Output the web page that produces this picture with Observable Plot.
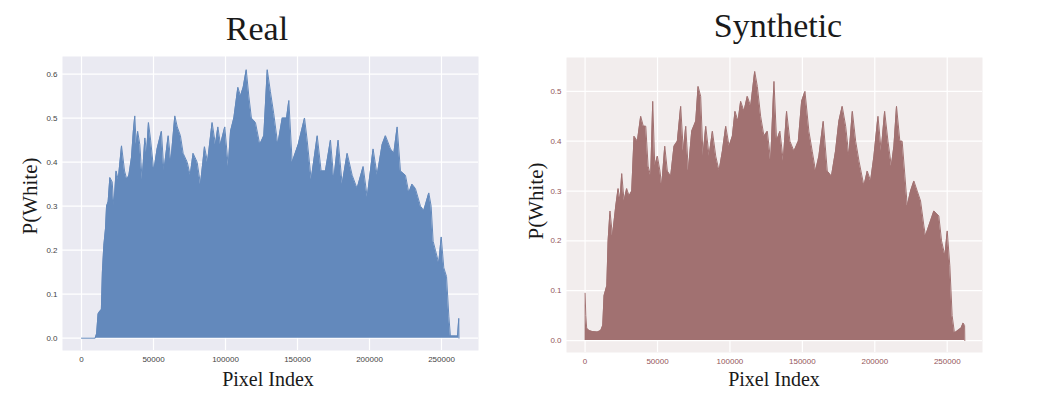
<!DOCTYPE html>
<html>
<head>
<meta charset="utf-8">
<script src="https://cdn.jsdelivr.net/npm/d3@7"></script>
<script src="https://cdn.jsdelivr.net/npm/@observablehq/plot@0.6"></script>
<style>
  html, body { margin: 0; padding: 0; background: #ffffff; }
  #wrap { position: relative; width: 1038px; height: 398px; overflow: hidden; background: #fff; }
  .panel { position: absolute; top: 0; }
  .title { position: absolute; font-family: "Liberation Serif", "DejaVu Serif", serif; font-size: 34px; color: #1a1a1a; transform: translateX(-50%); white-space: nowrap; line-height: 1; }
  .xlab { position: absolute; font-family: "Liberation Serif", "DejaVu Serif", serif; font-size: 20px; color: #1a1a1a; transform: translateX(-50%); white-space: nowrap; line-height: 1; }
  .ylab { position: absolute; font-family: "Liberation Serif", "DejaVu Serif", serif; font-size: 21px; color: #1a1a1a; white-space: nowrap; line-height: 1; transform: translate(-50%, -50%) rotate(-90deg); }
</style>
</head>
<body>
<div id="wrap"></div>
<script>
// ---- Data ----
const realX = [0, 9500, 10500, 11500, 12500, 13800, 14500, 15500, 16700, 17400, 18500, 19700, 21300, 22500, 24000, 25500, 27800, 29900, 31500, 32900, 34700, 36000, 37000, 38000, 39000, 40500, 42100, 44000, 45200, 46500, 48000, 50200, 52500, 55500, 57200, 60200, 62000, 64800, 66500, 68700, 70600, 73400, 75500, 77500, 80300, 82600, 84300, 85400, 87500, 90700, 93000, 94700, 96500, 99500, 101900, 103500, 105800, 108600, 110400, 112300, 114400, 116200, 118000, 120800, 123800, 126600, 129000, 131200, 133500, 136300, 139400, 142400, 144000, 146300, 150500, 154900, 156700, 159500, 163700, 166400, 169400, 172900, 175200, 178200, 181000, 184500, 188000, 191400, 195600, 198400, 202500, 205300, 208800, 211100, 214600, 216900, 219200, 221500, 225000, 227300, 229500, 231900, 235400, 237700, 241200, 242800, 244200, 245800, 248100, 249800, 251600, 253500, 255100, 256200, 259700, 261200, 262000, 262144];
const realP = [0, 0, 0.01, 0.055, 0.06, 0.065, 0.15, 0.21, 0.25, 0.30, 0.31, 0.365, 0.355, 0.30, 0.38, 0.36, 0.437, 0.38, 0.36, 0.37, 0.41, 0.47, 0.505, 0.44, 0.47, 0.44, 0.36, 0.455, 0.42, 0.49, 0.45, 0.38, 0.43, 0.47, 0.38, 0.46, 0.40, 0.505, 0.48, 0.46, 0.42, 0.40, 0.37, 0.42, 0.40, 0.35, 0.40, 0.435, 0.40, 0.49, 0.44, 0.48, 0.44, 0.48, 0.39, 0.47, 0.50, 0.57, 0.55, 0.57, 0.61, 0.55, 0.50, 0.49, 0.44, 0.46, 0.61, 0.56, 0.51, 0.44, 0.50, 0.50, 0.54, 0.40, 0.44, 0.50, 0.45, 0.36, 0.46, 0.38, 0.38, 0.45, 0.36, 0.45, 0.35, 0.42, 0.37, 0.34, 0.39, 0.32, 0.43, 0.37, 0.44, 0.46, 0.43, 0.42, 0.48, 0.38, 0.37, 0.33, 0.35, 0.34, 0.30, 0.29, 0.33, 0.30, 0.22, 0.20, 0.17, 0.23, 0.16, 0.14, 0.05, 0.005, 0.005, 0.005, 0.045, 0.0];

const synthX = [0, 500, 1100, 2800, 5000, 8500, 10800, 12200, 13100, 15000, 15900, 17200, 18900, 21200, 22800, 24100, 25300, 26900, 28700, 30400, 32200, 33800, 36100, 38400, 40200, 41900, 43500, 45300, 46700, 48100, 49900, 51700, 52900, 55000, 56800, 59100, 61400, 63700, 66000, 67800, 69500, 71300, 73600, 76400, 78000, 79800, 81400, 83300, 85600, 87900, 90200, 92500, 94800, 97100, 99400, 101700, 103500, 105600, 107400, 109700, 112000, 114300, 117100, 118900, 121200, 123500, 125800, 128100, 130400, 132200, 134500, 136800, 139100, 141400, 144200, 147200, 149500, 151800, 154500, 156800, 159100, 161400, 164400, 167200, 170100, 172900, 175200, 177500, 179900, 182100, 184500, 186800, 189100, 192500, 194800, 197100, 199400, 202200, 204400, 206800, 209100, 211400, 213200, 215000, 217300, 218900, 220800, 222400, 224700, 227000, 229300, 231600, 233900, 235000, 237300, 240800, 244200, 246100, 248400, 250000, 251800, 253400, 255000, 257300, 259600, 261000, 262000, 262144];
const synthP = [0.095, 0.05, 0.025, 0.02, 0.018, 0.017, 0.02, 0.03, 0.09, 0.11, 0.20, 0.26, 0.21, 0.27, 0.305, 0.28, 0.335, 0.28, 0.305, 0.29, 0.30, 0.41, 0.40, 0.45, 0.43, 0.43, 0.35, 0.33, 0.48, 0.35, 0.37, 0.34, 0.31, 0.39, 0.34, 0.33, 0.39, 0.40, 0.47, 0.38, 0.43, 0.34, 0.42, 0.44, 0.51, 0.49, 0.37, 0.43, 0.37, 0.42, 0.37, 0.34, 0.38, 0.43, 0.39, 0.41, 0.46, 0.44, 0.48, 0.46, 0.49, 0.47, 0.54, 0.51, 0.45, 0.41, 0.42, 0.36, 0.52, 0.40, 0.42, 0.36, 0.46, 0.40, 0.38, 0.40, 0.48, 0.50, 0.42, 0.38, 0.34, 0.37, 0.44, 0.34, 0.33, 0.38, 0.44, 0.47, 0.43, 0.37, 0.46, 0.40, 0.36, 0.31, 0.34, 0.32, 0.37, 0.45, 0.38, 0.46, 0.40, 0.35, 0.39, 0.47, 0.40, 0.40, 0.33, 0.27, 0.30, 0.32, 0.30, 0.28, 0.23, 0.21, 0.23, 0.26, 0.25, 0.20, 0.17, 0.22, 0.15, 0.05, 0.015, 0.02, 0.025, 0.035, 0.03, 0.0];

const xTicks = [0, 50000, 100000, 150000, 200000, 250000];
const realYTicks = [0, 0.1, 0.2, 0.3, 0.4, 0.5, 0.6];
const synthYTicks = [0, 0.1, 0.2, 0.3, 0.4, 0.5];
const titles = ["Real", "Synthetic"];
const xLabel = "Pixel Index";
const yLabel = "P(White)";

const realData = realX.map((x, i) => ({x, p: realP[i]}));
const synthData = synthX.map((x, i) => ({x, p: synthP[i]}));

function panel({data, yTicks, xDomain, yDomain, width, height, mL, mR, mT, mB, bg, fill, tickColor}) {
  return Plot.plot({
    width, height,
    marginLeft: mL, marginRight: mR, marginTop: mT, marginBottom: mB,
    style: {background: "transparent", fontFamily: "Liberation Sans, Arial, sans-serif", fontSize: "8px"},
    x: {domain: xDomain, ticks: xTicks, tickFormat: d3.format("d"), tickSize: 0, tickPadding: 6, label: null},
    y: {domain: yDomain, ticks: yTicks, tickFormat: d3.format(".1f"), tickSize: 0, tickPadding: 5, label: null},
    marks: [
      Plot.frame({fill: bg, stroke: null}),
      Plot.gridX(xTicks, {stroke: "#ffffff", strokeOpacity: 1, strokeWidth: 1.2}),
      Plot.gridY(yTicks, {stroke: "#ffffff", strokeOpacity: 1, strokeWidth: 1.2}),
      Plot.areaY(data, {x: "x", y: "p", fill: fill, fillOpacity: 1, curve: "linear"}),
      Plot.lineY(data, {x: "x", y: "p", stroke: fill, strokeWidth: 1, curve: "linear"}),
      Plot.axisX({ticks: xTicks, tickFormat: d3.format("d"), tickSize: 0, tickPadding: 6, fill: tickColor, label: null}),
      Plot.axisY({ticks: yTicks, tickFormat: d3.format(".1f"), tickSize: 0, tickPadding: 5, fill: tickColor, label: null})
    ]
  });
}

const wrap = document.getElementById("wrap");

const left = panel({
  data: realData, yTicks: realYTicks,
  xDomain: [-13200, 275700], yDomain: [-0.028, 0.64],
  width: 500, height: 398, mL: 62, mR: 22, mT: 56, mB: 48,
  bg: "#eaeaf2", fill: "#6389bc", tickColor: "#444444"
});
left.classList.add("panel");
left.style.left = "0px";
wrap.appendChild(left);

const right = panel({
  data: synthData, yTicks: synthYTicks,
  xDomain: [-12830, 274350], yDomain: [-0.024, 0.568],
  width: 538, height: 398, mL: 66, mR: 56, mT: 57, mB: 46,
  bg: "#f2eded", fill: "#a17171", tickColor: "#94565a"
});
right.classList.add("panel");
right.style.left = "500px";
wrap.appendChild(right);

function addText(cls, text, x, y) {
  const d = document.createElement("div");
  d.className = cls;
  d.textContent = text;
  d.style.left = x + "px";
  d.style.top = y + "px";
  wrap.appendChild(d);
}
addText("title", titles[0], 257, 12);
addText("title", titles[1], 778, 9);
addText("xlab", xLabel, 268, 369);
addText("xlab", xLabel, 774, 369);
addText("ylab", yLabel, 30, 196);
addText("ylab", yLabel, 536, 201);
</script>
</body>
</html>
